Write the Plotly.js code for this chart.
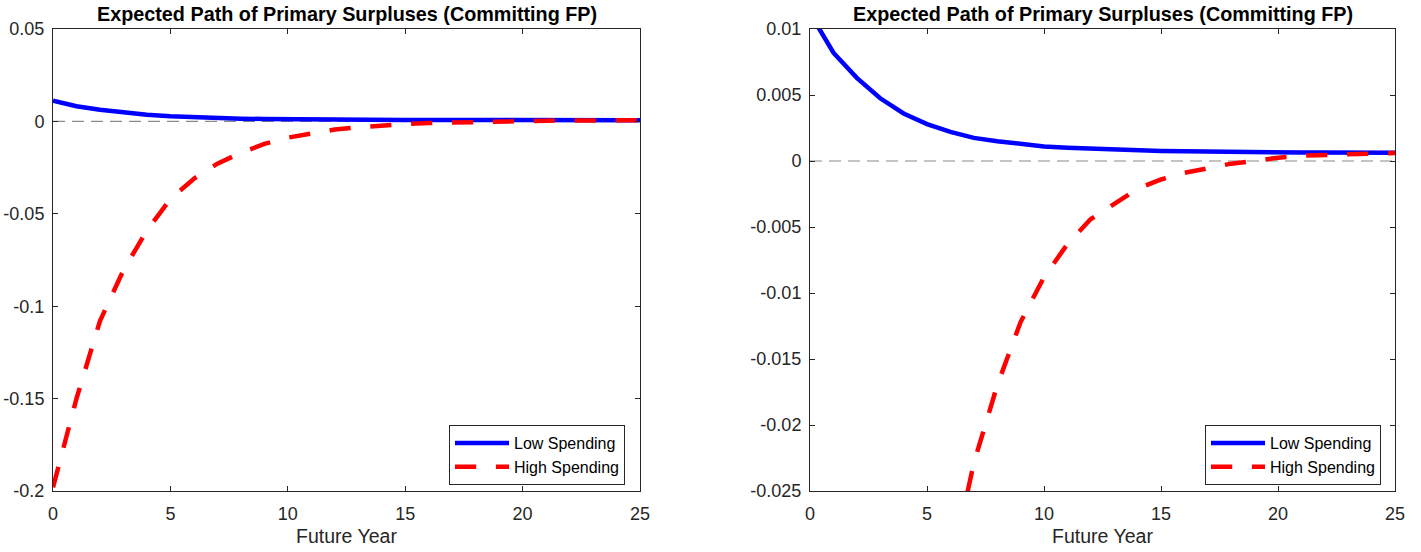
<!DOCTYPE html>
<html>
<head>
<meta charset="utf-8">
<script src="https://cdn.plot.ly/plotly-3.0.1.min.js"></script>
<style>html,body{margin:0;padding:0;background:#fff;}#chart{width:1421px;height:552px;}</style>
</head>
<body>
<div id="chart"></div>
<script>
// Data (future years 0..25)
const years = [0,1,2,3,4,5,6,7,8,9,10,11,12,13,14,15,16,17,18,19,20,21,22,23,24,25];
const lowSpending = [0.0112,0.0082,0.0063,0.00475,0.0036,0.0028,0.0022,0.00175,0.0015,0.00127,0.0011,0.00101,0.00093,0.00086,0.0008,0.00076,0.00073,0.0007,0.00068,0.00067,0.00066,0.00065,0.00064,0.00064,0.00063,0.00063];
const highSpending = [-0.198,-0.150,-0.108,-0.0805,-0.059,-0.042,-0.031,-0.0229,-0.0170,-0.0122,-0.0088,-0.0063,-0.0044,-0.0032,-0.0021,-0.0014,-0.0009,-0.00055,-0.0002,0.0,0.00025,0.0004,0.00048,0.00052,0.00056,0.0006];
const zeroLineX = [0,25];
const zeroLineY = [0,0];
const chartTitle = "Expected Path of Primary Surpluses (Committing FP)";
const xLabel = "Future Year";
const seriesNames = ["Low Spending","High Spending"];
const xTicks = [0,5,10,15,20,25];
const xTickText = ["0","5","10","15","20","25"];
const yTicksLeft = [-0.2,-0.15,-0.1,-0.05,0,0.05];
const yTickTextLeft = ["-0.2","-0.15","-0.1","-0.05","0","0.05"];
const yRangeLeft = [-0.2,0.05];
const yTicksRight = [-0.025,-0.02,-0.015,-0.01,-0.005,0,0.005,0.01];
const yTickTextRight = ["-0.025","-0.02","-0.015","-0.01","-0.005","0","0.005","0.01"];
const yRangeRight = [-0.025,0.01];
const xRange = [0,25];

const FONT = "Liberation Sans, Arial, Helvetica, sans-serif";
const AX = "#262626";
const W = 1421, H = 552;

function traces(xa, ya, leg) {
  return [
    {x: zeroLineX, y: zeroLineY, xaxis: xa, yaxis: ya, mode: 'lines', showlegend: false, hoverinfo: 'skip',
     line: {color: '#8a8a8a', width: 1.2, dash: '12px,7px'}},
    {x: years, y: lowSpending, xaxis: xa, yaxis: ya, mode: 'lines', name: seriesNames[0], legend: leg,
     line: {color: '#0000ff', width: 4.5}},
    {x: years, y: highSpending, xaxis: xa, yaxis: ya, mode: 'lines', name: seriesNames[1], legend: leg,
     line: {color: '#ff0000', width: 4.5, dash: '21.2px,19.7px'}}
  ];
}

function xaxis(d0, d1, anchor) {
  return {domain: [d0, d1], anchor: anchor, range: xRange, tickvals: xTicks, ticktext: xTickText,
    showline: true, mirror: 'ticks', ticks: 'inside', ticklen: 5, tickcolor: AX, linecolor: AX, linewidth: 1,
    showgrid: false, zeroline: false, tickfont: {family: FONT, size: 18, color: AX}, ticklabelstandoff: 6,
    title: {text: xLabel, font: {family: FONT, size: 19.5, color: AX}, standoff: 6}};
}
function yaxis(anchor, range, vals, text) {
  return {domain: [1 - 491/H, 1 - 29/H], anchor: anchor, range: range, tickvals: vals, ticktext: text,
    showline: true, mirror: 'ticks', ticks: 'inside', ticklen: 5, tickcolor: AX, linecolor: AX, linewidth: 1,
    showgrid: false, zeroline: false, tickfont: {family: FONT, size: 18, color: AX}, ticklabelstandoff: 4};
}

const data = traces('x', 'y', 'legend').concat(traces('x2', 'y2', 'legend2'));

const legendStyle = (x) => ({x: x, y: 1 - 425/H, xanchor: 'left', yanchor: 'top', xref: 'paper', yref: 'paper',
  bgcolor: '#ffffff', bordercolor: AX, borderwidth: 1, font: {family: FONT, size: 16, color: '#000'},
  tracegroupgap: 0, itemwidth: 54});

const layout = {
  width: W, height: H,
  margin: {l: 0, r: 0, t: 0, b: 0},
  paper_bgcolor: '#fff', plot_bgcolor: '#fff',
  showlegend: true,
  xaxis: xaxis(53/W, 640/W, 'y'),
  yaxis: yaxis('x', yRangeLeft, yTicksLeft, yTickTextLeft),
  xaxis2: xaxis(810/W, 1395/W, 'y2'),
  yaxis2: yaxis('x2', yRangeRight, yTicksRight, yTickTextRight),
  legend: legendStyle(449/W),
  legend2: legendStyle(1205/W),
  annotations: [
    {text: '<b>' + chartTitle + '</b>', xref: 'paper', yref: 'paper', x: (53+640)/2/W, y: 1 - 14/H,
     xanchor: 'center', yanchor: 'middle', showarrow: false, font: {family: FONT, size: 19.8, color: '#000'}},
    {text: '<b>' + chartTitle + '</b>', xref: 'paper', yref: 'paper', x: (810+1395)/2/W, y: 1 - 14/H,
     xanchor: 'center', yanchor: 'middle', showarrow: false, font: {family: FONT, size: 19.8, color: '#000'}}
  ]
};

Plotly.newPlot('chart', data, layout, {staticPlot: true, displayModeBar: false});
</script>
</body>
</html>
